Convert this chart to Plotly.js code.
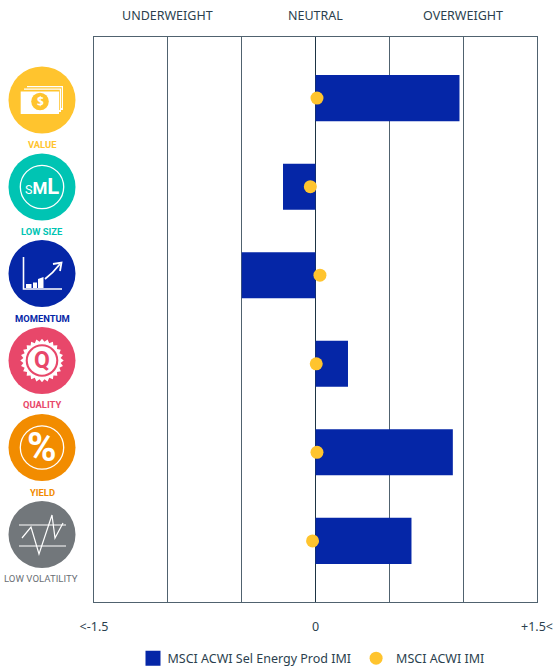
<!DOCTYPE html>
<html><head><meta charset="utf-8">
<script src="https://cdn.plot.ly/plotly-3.0.1.min.js"></script>
<style>html,body{margin:0;padding:0;background:#fff}</style></head>
<body><div id="c" style="width:554px;height:669px"></div>
<script>
const factors=['VALUE','LOW SIZE','MOMENTUM','QUALITY','YIELD','LOW VOLATILITY'];
const fundValues=[0.975,-0.22,-0.5,0.22,0.93,0.65];
const benchValues=[0.01,-0.035,0.03,0.005,0.01,-0.02];
const tickVals=[-1.5,-1,-0.5,0,0.5,1,1.5];
const tickText=['<-1.5','','','0','','','+1.5<'];
const factorColors=['#FFC42E','#00C4B3','#0526A7','#E8476A','#F28C00','#72777B'];
const iconY=[100,187,273.5,360.5,447.5,534.5];
const labelY=[144,231,318,404.5,492,578];

const W=554,H=669,L=94,R=17,T=37,B=67,PW=W-L-R,PH=H-T-B;
const fx=x=>(x-L)/PW, fy=y=>1-(y-T)/PH;
const font='"Noto Sans","Open Sans",sans-serif';
const ink='#2b3f4e';
const shapes=[],ann=[];
function path(d,o){
  const s=d.replace(/(-?[\d.]+) (-?[\d.]+)/g,(m,a,b)=>fx(+a)+' '+fy(+b));
  shapes.push(Object.assign({type:'path',xref:'paper',yref:'paper',path:s,layer:'above',line:{width:0}},o));
}
function circle(cx,cy,r,fill,line){
  shapes.push({type:'circle',xref:'paper',yref:'paper',x0:fx(cx-r),x1:fx(cx+r),y0:fy(cy+r),y1:fy(cy-r),
    fillcolor:fill,line:line||{width:0},layer:'above'});
}
function text(x,y,t,size,color,extra){
  ann.push(Object.assign({xref:'paper',yref:'paper',x:fx(x),y:fy(y),text:t,showarrow:false,
    xanchor:'center',yanchor:'middle',font:{family:font,size:size,color:color}},extra||{}));
}
const WHITE='#ffffff';
factors.forEach((f,i)=>{
  circle(42,iconY[i],33.5,factorColors[i]);
  text(i==5?41:42,labelY[i],i==5?f:'<b>'+f+'</b>',9.4,factorColors[i],{font:{family:'Roboto,sans-serif',size:i==5?9.6:9.4,color:i==5?'#6b7075':factorColors[i]}});
});
// value
const vc=factorColors[0];
path('M 27 86 L 63 86 L 63 110 L 27 110 Z',{fillcolor:WHITE});
path('M 27 87.2 L 61.8 87.2 L 61.8 108 L 27 108 Z',{fillcolor:vc});
path('M 24 88.5 L 61 88.5 L 61 112 L 24 112 Z',{fillcolor:WHITE});
path('M 24 89.7 L 59.8 89.7 L 59.8 110 L 24 110 Z',{fillcolor:vc});
path('M 20.7 91.5 L 59 91.5 L 59 114 L 20.7 114 Z',{fillcolor:WHITE});
circle(40,101.5,8.8,vc);
text(40,101.5,'<b>$</b>',12,WHITE);
// size
circle(42,187,21.7,'rgba(0,0,0,0)',{color:WHITE,width:1.3});
text(42,186.5,'S<span style="font-size:17px"><b>M</b></span><span style="font-size:22px"><b>L</b></span>',12.5,WHITE,{font:{family:'Roboto,sans-serif',size:12.5,color:WHITE}});
// momentum
path('M 23.5 257 L 23.5 289 L 62 289',{line:{color:WHITE,width:1.6}});
path('M 26 284 L 31.5 284 L 31.5 288 L 26 288 Z',{fillcolor:WHITE});
path('M 33 282.5 L 37 282.5 L 37 288 L 33 288 Z',{fillcolor:WHITE});
path('M 38 279 L 43.5 277 L 43.5 288 L 38 288 Z',{fillcolor:WHITE});
path('M 45 279 Q 53 273 60 264',{line:{color:WHITE,width:1.8}});
path('M 53 264 L 61.5 262.5 L 60 271',{line:{color:WHITE,width:1.8}});
// quality
let burst='';
for(let k=0;k<48;k++){const a=k*Math.PI/24,r=k%2?18.8:21.7;
  burst+=(k?'L ':'M ')+(42+r*Math.cos(a)).toFixed(2)+' '+(360.5+r*Math.sin(a)).toFixed(2)+' ';}
path(burst+'Z',{fillcolor:WHITE});
circle(42,360.5,16.3,factorColors[3]);
circle(42,360.5,14.2,WHITE);
text(42,360,'<b>Q</b>',22,factorColors[3],{font:{family:'Roboto,sans-serif',size:23,color:factorColors[3]}});
// yield
circle(42,447.5,21.7,'rgba(0,0,0,0)',{color:WHITE,width:1.3});
text(42,447,'<b>%</b>',36,WHITE,{font:{family:'Roboto,sans-serif',size:40,color:WHITE}});
// low vol
path('M 19 525 L 66 525',{line:{color:WHITE,width:1.2}});
path('M 19 546 L 66 546',{line:{color:WHITE,width:1.2}});
path('M 22 538 L 31 527 L 39 554 L 52 515 L 55 538 L 63 523',{line:{color:WHITE,width:1.2}});
// header
text(167.5,15,'UNDERWEIGHT',12.5,ink);
text(315.3,15,'NEUTRAL',12.5,ink);
text(463,15,'OVERWEIGHT',12.5,ink);

const traces=[
 {type:'bar',orientation:'h',name:'MSCI ACWI Sel Energy Prod IMI',y:factors,x:fundValues,width:0.52,
  marker:{color:'#0526A7',line:{width:0}},hoverinfo:'x+y'},
 {type:'scatter',mode:'markers',name:'MSCI ACWI IMI',y:factors,x:benchValues,
  marker:{color:'#FFC42E',size:13,line:{width:0}},hoverinfo:'x+y'}
];
const layout={
 width:W,height:H,autosize:false,paper_bgcolor:'#fff',plot_bgcolor:'#fff',
 margin:{l:L,r:R,t:T,b:B,pad:0},showlegend:true,
 font:{family:font,size:12.5,color:ink},
 xaxis:{range:[-1.5,1.5],tickmode:'array',tickvals:tickVals,ticktext:tickText,ticks:'',showgrid:true,
   gridcolor:'#50626f',gridwidth:1,zeroline:true,zerolinecolor:'#1d3444',zerolinewidth:1,
   showline:true,linecolor:'#50626f',linewidth:1,mirror:true,ticklabelstandoff:13,
   tickfont:{family:font,size:12.5,color:ink},fixedrange:true},
 yaxis:{type:'category',categoryorder:'array',categoryarray:factors,range:[5.69,-0.69],showticklabels:false,
   ticks:'',showgrid:false,zeroline:false,showline:true,linecolor:'#50626f',linewidth:1,mirror:true,fixedrange:true},
 legend:{orientation:'h',x:308.5/554,xref:'container',xanchor:'center',y:10.5/669,yref:'container',yanchor:'middle',
   font:{family:font,size:12.5,color:ink},itemwidth:30,traceorder:'normal',bgcolor:'rgba(0,0,0,0)'},
 shapes:shapes,annotations:ann
};
function fixSwatch(){
  document.querySelectorAll('.legend .legendpoints path').forEach(p=>{
    const d=p.getAttribute('d')||'';
    if(/^M6,6/.test(d)||p.dataset.sw){p.dataset.sw='1';p.setAttribute('d','M13,7.5H-2V-7.5H13Z');}
  });
}
Plotly.newPlot('c',traces,layout,{displayModeBar:false,staticPlot:true}).then(()=>{
  fixSwatch();setTimeout(fixSwatch,0);setTimeout(fixSwatch,100);
});
</script></body></html>
